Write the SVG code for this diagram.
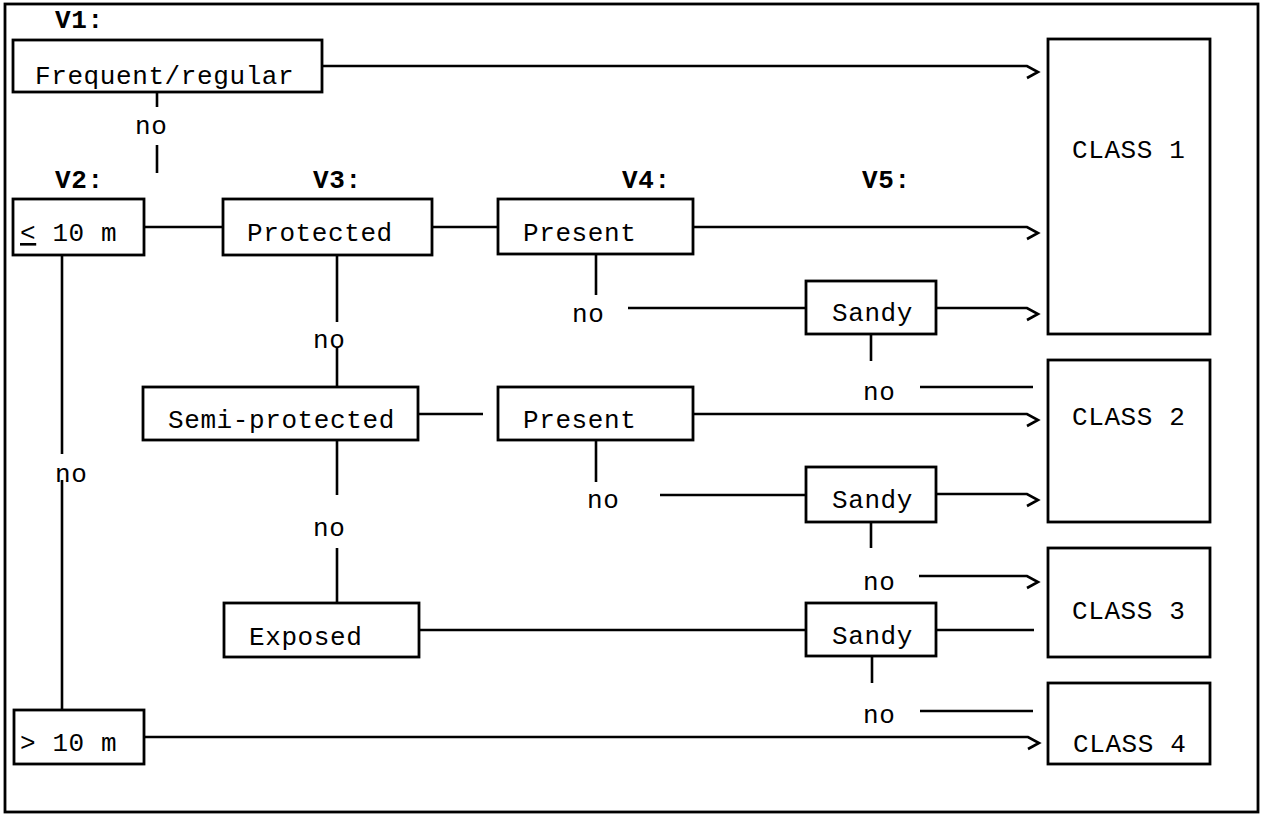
<svg xmlns="http://www.w3.org/2000/svg" width="1263" height="815" viewBox="0 0 1263 815">
<style>
text{font-family:"Liberation Mono","Courier New",monospace;font-size:26px;letter-spacing:0.6px;fill:#000}
.b{font-weight:bold}
rect{fill:#fff;stroke:#000;stroke-width:2.8}
path,line{fill:none;stroke:#000;stroke-width:2.6}
</style>
<rect x="0" y="0" width="1263" height="815" style="fill:#fff;stroke:none"/>
<rect x="5" y="4" width="1253" height="808" style="fill:none"/>
<g id="labels">
<text class="b" x="55" y="28">V1:</text>
<text class="b" x="55" y="188">V2:</text>
<text class="b" x="313" y="188">V3:</text>
<text class="b" x="622" y="188">V4:</text>
<text class="b" x="862" y="188">V5:</text>
<text x="135" y="134">no</text>
<text x="572" y="322">no</text>
<text x="313" y="348">no</text>
<text x="863" y="400">no</text>
<text x="587" y="508">no</text>
<text x="313" y="536">no</text>
<text x="863" y="590">no</text>
<text x="863" y="723">no</text>
<text x="55" y="482">no</text>
</g>
<g id="connectors">
<path d="M322 66H1027L1038 72L1027 78"/>
<path d="M157 92V107M157 145V173"/>
<path d="M144 227H223M432 227H498"/>
<path d="M693 227H1027L1038 233L1027 239"/>
<path d="M596 254V295"/>
<path d="M628 308H806"/>
<path d="M936 308H1027L1038 314L1027 320"/>
<path d="M871 334V361"/>
<path d="M920 387H1033"/>
<path d="M337 255V322M337 348V387"/>
<path d="M418 414H483"/>
<path d="M693 414H1027L1038 420L1027 426"/>
<path d="M596 440V482"/>
<path d="M660 495H806"/>
<path d="M936 494H1027L1038 500L1027 506"/>
<path d="M871 522V548"/>
<path d="M919 576H1027L1038 582L1027 588"/>
<path d="M337 440V495M337 548V603"/>
<path d="M419 630H806M936 630H1034"/>
<path d="M872 656V683"/>
<path d="M920 711H1033"/>
<path d="M62 255V454M62 480V710"/>
<path d="M144 737H1028L1039 743L1028 749"/>
</g>
<g id="n-frequent"><rect x="13" y="40" width="309" height="52"/><text x="35" y="84">Frequent/regular</text></g>
<g id="n-le10"><rect x="13" y="199" width="131" height="56"/><text x="20" y="241"><tspan text-decoration="underline">&lt;</tspan> 10 m</text></g>
<g id="n-protected"><rect x="223" y="199" width="209" height="56"/><text x="247" y="241">Protected</text></g>
<g id="n-present1"><rect x="498" y="199" width="195" height="55"/><text x="523" y="241">Present</text></g>
<g id="n-sandy1"><rect x="806" y="281" width="130" height="53"/><text x="832" y="321">Sandy</text></g>
<g id="n-semi"><rect x="143" y="387" width="275" height="53"/><text x="168" y="428">Semi-protected</text></g>
<g id="n-present2"><rect x="498" y="387" width="195" height="53"/><text x="523" y="428">Present</text></g>
<g id="n-sandy2"><rect x="806" y="467" width="130" height="55"/><text x="832" y="508">Sandy</text></g>
<g id="n-exposed"><rect x="224" y="603" width="195" height="54"/><text x="249" y="645">Exposed</text></g>
<g id="n-sandy3"><rect x="806" y="603" width="130" height="53"/><text x="832" y="644">Sandy</text></g>
<g id="n-gt10"><rect x="14" y="710" width="130" height="54"/><text x="20" y="751">&gt; 10 m</text></g>
<g id="n-class1"><rect x="1048" y="39" width="162" height="295"/><text x="1072" y="158">CLASS 1</text></g>
<g id="n-class2"><rect x="1048" y="360" width="162" height="162"/><text x="1072" y="425">CLASS 2</text></g>
<g id="n-class3"><rect x="1048" y="548" width="162" height="109"/><text x="1072" y="619">CLASS 3</text></g>
<g id="n-class4"><rect x="1048" y="683" width="162" height="81"/><text x="1073" y="752">CLASS 4</text></g>
</svg>
